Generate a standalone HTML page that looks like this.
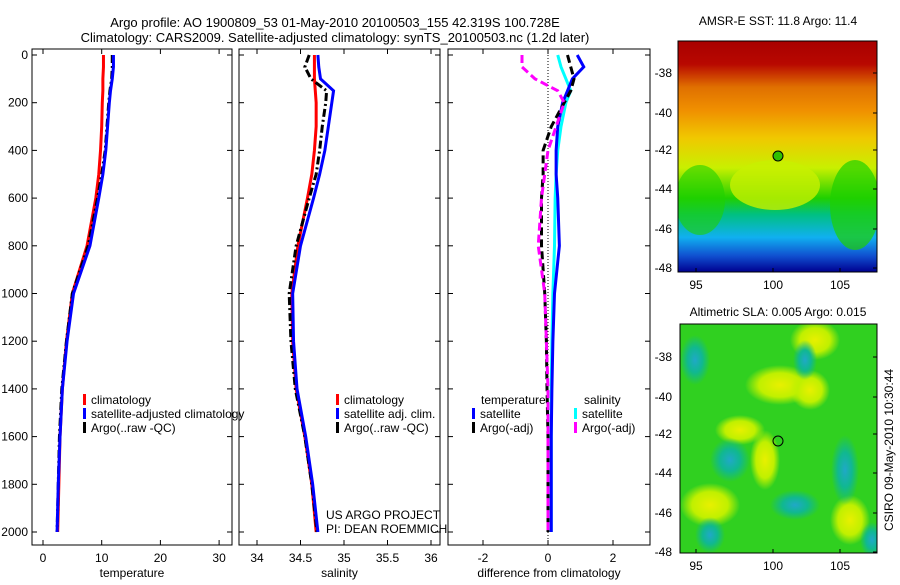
<!DOCTYPE html>
<html><head><meta charset="utf-8"><style>
body{margin:0;background:#fff;}
svg text{font-family:"Liberation Sans",sans-serif;fill:#000;}
</style></head><body>
<svg id="c" width="900" height="580" xmlns="http://www.w3.org/2000/svg">
<defs>
<linearGradient id="sst" x1="0" y1="0" x2="0" y2="1">
<stop offset="0" stop-color="#a80000"/><stop offset="0.1" stop-color="#b80800"/>
<stop offset="0.2" stop-color="#e07000"/><stop offset="0.3" stop-color="#f09000"/>
<stop offset="0.42" stop-color="#f0c800"/><stop offset="0.55" stop-color="#c8f000"/>
<stop offset="0.68" stop-color="#20d000"/><stop offset="0.75" stop-color="#00c080"/>
<stop offset="0.85" stop-color="#10b0f0"/><stop offset="0.93" stop-color="#1050d0"/>
<stop offset="1" stop-color="#000090"/></linearGradient>
<radialGradient id="blobc"><stop offset="0" stop-color="#20a8c8"/><stop offset="0.5" stop-color="#10b890"/><stop offset="1" stop-color="#10b890" stop-opacity="0"/></radialGradient>
<radialGradient id="bloby"><stop offset="0" stop-color="#e8f000"/><stop offset="0.6" stop-color="#c0f000"/><stop offset="1" stop-color="#c0f000" stop-opacity="0"/></radialGradient>
<clipPath id="c1"><rect x="678" y="41" width="199" height="231"/></clipPath>
<clipPath id="c2"><rect x="680" y="324" width="197" height="229"/></clipPath>
</defs>
<text x="335" y="27" font-size="13" text-anchor="middle">Argo profile: AO 1900809_53 01-May-2010 20100503_155 42.319S 100.728E</text>
<text x="335" y="42" font-size="13" text-anchor="middle">Climatology: CARS2009. Satellite-adjusted climatology: synTS_20100503.nc (1.2d later)</text>
<g id="plots"></g>
<g>
<text x="778" y="25" font-size="12" text-anchor="middle">AMSR-E SST: 11.8 Argo: 11.4</text>
<g clip-path="url(#c1)">
<rect x="678" y="41" width="199" height="231" fill="url(#sst)"/>
<ellipse cx="700" cy="200" rx="25" ry="35" fill="#20d000" opacity="0.6"/>
<ellipse cx="855" cy="205" rx="25" ry="45" fill="#20d000" opacity="0.7"/>
<ellipse cx="775" cy="185" rx="45" ry="25" fill="#c8f000" opacity="0.8"/>
</g>
<circle cx="778" cy="156" r="5" fill="#30c000" stroke="#000"/>
<rect x="678" y="41" width="199" height="231" fill="none" stroke="#000"/>
</g>
<g>
<text x="778" y="316" font-size="12" text-anchor="middle">Altimetric SLA: 0.005 Argo: 0.015</text>
<g clip-path="url(#c2)">
<rect x="680" y="324" width="197" height="229" fill="#30d020"/>
<ellipse cx="780" cy="385" rx="35" ry="20" fill="url(#bloby)"/>
<ellipse cx="815" cy="340" rx="25" ry="20" fill="url(#bloby)"/>
<ellipse cx="740" cy="430" rx="25" ry="15" fill="url(#bloby)"/>
<ellipse cx="765" cy="460" rx="15" ry="30" fill="url(#bloby)"/>
<ellipse cx="710" cy="505" rx="30" ry="22" fill="url(#bloby)"/>
<ellipse cx="850" cy="520" rx="20" ry="25" fill="url(#bloby)"/>
<ellipse cx="810" cy="390" rx="20" ry="20" fill="url(#bloby)"/>
<ellipse cx="730" cy="460" rx="20" ry="22" fill="url(#blobc)"/>
<ellipse cx="695" cy="360" rx="15" ry="25" fill="url(#blobc)"/>
<ellipse cx="805" cy="360" rx="12" ry="20" fill="url(#blobc)"/>
<ellipse cx="845" cy="470" rx="14" ry="35" fill="url(#blobc)"/>
<ellipse cx="795" cy="505" rx="25" ry="15" fill="url(#blobc)"/>
<ellipse cx="710" cy="535" rx="15" ry="18" fill="url(#blobc)"/>
<ellipse cx="872" cy="540" rx="12" ry="18" fill="url(#blobc)"/>
</g>
<circle cx="778" cy="441" r="5" fill="none" stroke="#000"/>
<rect x="680" y="324" width="197" height="229" fill="none" stroke="#000"/>
</g>
<text transform="translate(893,450) rotate(-90)" font-size="12" text-anchor="middle">CSIRO 09-May-2010 10:30:44</text>
<text x="326" y="519" font-size="12">US ARGO PROJECT</text>
<text x="326" y="533" font-size="12">PI: DEAN ROEMMICH</text>
</svg>
<script>
// depth levels (m)
const depths=[0,50,100,150,200,300,400,500,600,800,1000,1200,1400,1600,1800,2000];
// temperature panel
const tClim=[10.3,10.3,10.2,10.2,10.1,10,9.8,9.5,9,7.5,5,4,3.3,2.9,2.7,2.5];
const tSat=[12,12,11.8,11.5,11.3,11,10.7,10.2,9.5,8,5.2,4.1,3.3,2.9,2.6,2.4];
const tArgo=[11.8,11.8,11.7,11.4,11.2,10.9,10.6,10,9.3,7.7,5,4,3.2,2.8,2.6,2.4];
// salinity panel
const sClim=[34.66,34.66,34.66,34.67,34.68,34.68,34.66,34.63,34.58,34.47,34.4,34.41,34.45,34.55,34.63,34.68];
const sSat=[34.7,34.71,34.73,34.88,34.86,34.82,34.78,34.72,34.65,34.5,34.41,34.42,34.46,34.56,34.64,34.7];
const sArgo=[34.6,34.55,34.62,34.8,34.79,34.75,34.72,34.68,34.6,34.45,34.37,34.39,34.44,34.55,34.63,34.69];
// difference panel
const dTSat=[0.9,1.1,0.75,0.6,0.45,0.3,0.25,0.25,0.3,0.35,0.2,0.15,0.12,0.1,0.1,0.1];
const dSSat=[0.3,0.4,0.55,0.7,0.55,0.4,0.3,0.25,0.22,0.2,0.15,0.12,0.1,0.1,0.1,0.1];
const dTArgo=[0.6,0.7,0.8,0.7,0.5,0.1,-0.15,-0.15,-0.2,-0.2,-0.1,-0.05,-0.03,0,0,0];
const dSArgo=[-0.8,-0.8,-0.4,0.3,0.5,0.25,0,-0.1,-0.2,-0.3,-0.1,-0.05,0,0,0,0];
const depthTicks=[0,200,400,600,800,1000,1200,1400,1600,1800,2000];
const tTicks=[0,10,20,30], sTicks=[34,34.5,35,35.5,36], dTicks=[-2,0,2];
const NS="http://www.w3.org/2000/svg";
const g=document.getElementById('plots');
function mk(t,a,p){const e=document.createElementNS(NS,t);for(const k in a)e.setAttribute(k,a[k]);(p||g).appendChild(e);return e;}
const y=d=>55+d*0.2385;
const topY=49,bot=545;
const panels=[
 {x0:32,x1:232,v0:0,px:5.87,o:43,ticks:tTicks,lab:'temperature',name:'temperature'},
 {x0:239,x1:440,v0:34,px:87,o:257,ticks:sTicks,lab:'salinity',name:'salinity'},
 {x0:448,x1:650,v0:0,px:32.5,o:548,ticks:dTicks,lab:'difference from climatology',name:'difference'}];
panels.forEach((P,i)=>{
 const f=mk('rect',{x:P.x0,y:topY,width:P.x1-P.x0,height:bot-topY,fill:'none',stroke:'#000'});
 
 
 P.ticks.forEach(t=>{const xx=P.o+(t-P.v0)*P.px;
  mk('line',{x1:xx,x2:xx,y1:bot,y2:bot-5,stroke:'#000'});mk('line',{x1:xx,x2:xx,y1:topY,y2:topY+5,stroke:'#000'});
  const tx=mk('text',{x:xx,y:bot+17,'font-size':12,'text-anchor':'middle'});tx.textContent=t;
  
  });
 depthTicks.forEach(d=>{mk('line',{x1:P.x0,x2:P.x0+5,y1:y(d),y2:y(d),stroke:'#000'});mk('line',{x1:P.x1,x2:P.x1-5,y1:y(d),y2:y(d),stroke:'#000'});
  if(i==0){const tx=mk('text',{x:28,y:y(d)+4,'font-size':12,'text-anchor':'end'});tx.textContent=d;
  
  }});
 const xl=mk('text',{x:(P.x0+P.x1)/2,y:bot+32,'font-size':12,'text-anchor':'middle'});xl.textContent=P.lab;
 
 
 P.X=v=>P.o+(v-P.v0)*P.px;
});
function line(P,vals,col,dash,w,name){
 const pts=vals.map((v,i)=>P.X(v)+','+y(depths[i])).join(' ');
 const e=mk('polyline',{points:pts,fill:'none',stroke:col,'stroke-width':w,'stroke-dasharray':dash||'none'});
 
 
}
const [P1,P2,P3]=panels;
mk('line',{x1:548,x2:548,y1:topY,y2:bot,stroke:'#000','stroke-dasharray':'1,2'});
line(P1,tClim,'#f00','',3,'temp-climatology-line');
line(P1,tArgo,'#000','8,3,2,3',3,'temp-argo-line');
line(P1,tSat,'#00f','',3,'temp-satellite-line');
line(P2,sClim,'#f00','',3,'sal-climatology-line');
line(P2,sArgo,'#000','8,3,2,3',3,'sal-argo-line');
line(P2,sSat,'#00f','',3,'sal-satellite-line');
line(P3,dSSat,'#0ff','',3,'diff-sal-satellite-line');
line(P3,dTSat,'#00f','',3,'diff-temp-satellite-line');
line(P3,dTArgo,'#000','8,4',3,'diff-temp-argo-line');
line(P3,dSArgo,'#f0f','8,4',3,'diff-sal-argo-line');
function leg(x,yy,col,txt,name){
 mk('rect',{x:x,y:yy-10,width:3,height:11,fill:col});
 const t=mk('text',{x:x+8,y:yy,'font-size':12});t.textContent=txt;
 
 
}
leg(83,404,'#f00','climatology','legend-temp-clim');
leg(83,418,'#00f','satellite-adjusted climatology','legend-temp-sat');
leg(83,432,'#000','Argo(..raw -QC)','legend-temp-argo');
leg(336,404,'#f00','climatology','legend-sal-clim');
leg(336,418,'#00f','satellite adj. clim.','legend-sal-sat');
leg(336,432,'#000','Argo(..raw -QC)','legend-sal-argo');
let t1=mk('text',{x:481,y:404,'font-size':12});t1.textContent='temperature';


let t2=mk('text',{x:584,y:404,'font-size':12});t2.textContent='salinity';


leg(472,418,'#00f','satellite','legend-diff-temp-sat');
leg(472,432,'#000','Argo(-adj)','legend-diff-temp-argo');
leg(574,418,'#0ff','satellite','legend-diff-sal-sat');
leg(574,432,'#f0f','Argo(-adj)','legend-diff-sal-argo');
const svg=document.getElementById('c');
const lonT=[95,100,105],lonX=[696,773,840];
const latT=[-38,-40,-42,-44,-46,-48],latY=[73,113,150,189,229,268];
[[272,0],[553,284]].forEach(([b,off])=>{
 lonT.forEach((l,i)=>{const t=mk('text',{x:lonX[i],y:b+17,'font-size':12,'text-anchor':'middle'},svg);t.textContent=l;
  
  
  mk('line',{x1:lonX[i],x2:lonX[i],y1:b,y2:b-4,stroke:'#000'},svg);});
 latT.forEach((l,i)=>{const t=mk('text',{x:672,y:latY[i]+off+4,'font-size':12,'text-anchor':'end'},svg);t.textContent=l;
  
  
  mk('line',{x1:877,x2:873,y1:latY[i]+off,y2:latY[i]+off,stroke:'#000'},svg);});
});
</script>
</body></html>
